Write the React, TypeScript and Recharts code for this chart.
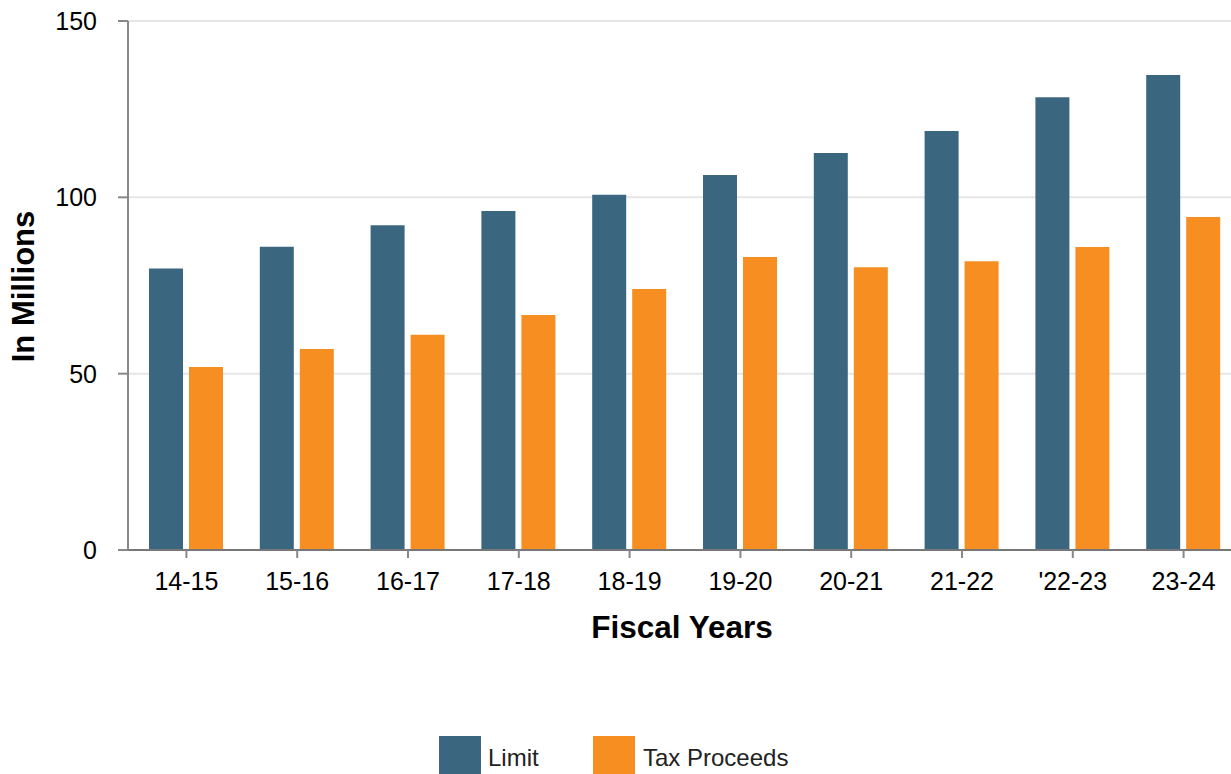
import React from 'react';
import { BarChart, Bar, XAxis, YAxis, CartesianGrid } from 'recharts';

const categories = ['14-15', '15-16', '16-17', '17-18', '18-19', '19-20', '20-21', '21-22', "'22-23", '23-24'];
const limitValues = [79.8, 86, 92.1, 96.1, 100.7, 106.3, 112.6, 118.8, 128.4, 134.7];
const taxValues = [51.9, 57.0, 61.0, 66.6, 74.0, 83.1, 80.2, 81.9, 85.9, 94.4];
const yTicks = [0, 50, 100, 150];
const seriesNames = ['Limit', 'Tax Proceeds'];
const seriesColors = ['#3b6680', '#f68e21'];

const data = categories.map((c, i) => ({ year: c, limit: limitValues[i], tax: taxValues[i] }));

const FONT = 'Arial, "Liberation Sans", sans-serif';

const YLabel = () => {
  const cy = 286.5;
  return (
    <text x={0} y={0} transform={`translate(34, ${cy}) rotate(-90)`} textAnchor="middle"
      fontFamily={FONT} fontWeight="bold" fontSize={31} fill="#000">In Millions</text>
  );
};

const XLabel = (props: any) => {
  const vb = props.viewBox || {};
  return (
    <text x={682} y={vb.y + 88} textAnchor="middle"
      fontFamily={FONT} fontWeight="bold" fontSize={31.5} fill="#000">Fiscal Years</text>
  );
};

export default function App() {
  return (
    <div style={{ position: 'absolute', left: 0, top: 0, width: 1231, height: 774, overflow: 'hidden', background: '#fff' }}>
      <BarChart width={1239} height={774} data={data} margin={{ top: 21, right: 0, left: 0, bottom: 134 }}
        barSize={34} barGap={6}>
        <CartesianGrid vertical={false} stroke="#e6e6e6" strokeWidth={2} />
        <XAxis dataKey="year" height={90} padding={{ left: 3, right: 0 }}
          stroke="#777" strokeWidth={2} tickSize={8} tickMargin={14}
          tick={{ fill: '#000', fontSize: 25, fontFamily: FONT }}
          tickLine={{ stroke: '#888', strokeWidth: 2 }}
          label={<XLabel />} />
        <YAxis width={128} domain={[0, 150]} ticks={yTicks} stroke="#888" strokeWidth={2}
          tickSize={10} tickMargin={21}
          tick={{ fill: '#000', fontSize: 25, fontFamily: FONT }}
          tickLine={{ stroke: '#888', strokeWidth: 2 }}
          label={<YLabel />} />
        <Bar dataKey="limit" name={seriesNames[0]} fill={seriesColors[0]} isAnimationActive={false} />
        <Bar dataKey="tax" name={seriesNames[1]} fill={seriesColors[1]} isAnimationActive={false} />
      </BarChart>
      {seriesNames.map((n, i) => (
        <div key={n} style={{ position: 'absolute', top: 736, left: i === 0 ? 439 : 593, display: 'flex', alignItems: 'flex-start' }}>
          <div style={{ width: 42, height: 42, background: seriesColors[i] }} />
          <span style={{ marginLeft: i === 0 ? 7 : 8, marginTop: 10, fontFamily: FONT, fontSize: 24, color: '#222', lineHeight: '24px', whiteSpace: 'nowrap' }}>{n}</span>
        </div>
      ))}
    </div>
  );
}
